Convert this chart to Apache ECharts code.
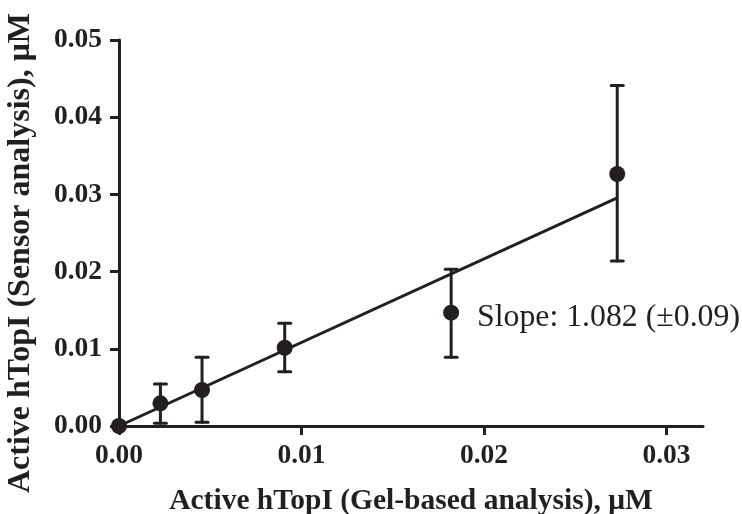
<!DOCTYPE html>
<html>
<head>
<meta charset="utf-8">
<script src="https://cdn.jsdelivr.net/npm/echarts@6/dist/echarts.min.js"></script>
<style>
  html, body { margin: 0; padding: 0; background: #fff; }
  #chart { width: 742px; height: 514px; }
</style>
</head>
<body>
<div id="chart"></div>
<script>
  // gel-based concentration (x) vs sensor concentration (y), uM
  const gelValues = [0, 0.00227, 0.00455, 0.00908, 0.0182, 0.0273]
  const sensorValues = [0, 0.00294, 0.00466, 0.01014, 0.01468, 0.03264]
  const errLow = [0, 0.00035, 0.00048, 0.00703, 0.0089, 0.02137]
  const errHigh = [0, 0.00544, 0.0089, 0.0133, 0.0203, 0.0441]
  const slope = 1.082
  const slopeText = 'Slope: 1.082 (\u00b10.09)'

  const ink = '#231f20'
  const font = 'Liberation Serif'

  const points = gelValues.map((x, i) => [x, sensorValues[i]])
  const bars = gelValues.map((x, i) => [x, errLow[i], errHigh[i]])
  const xEnd = gelValues[gelValues.length - 1]
  const fitLine = [[0, 0], [xEnd, xEnd * slope]]

  const chart = echarts.init(document.getElementById('chart'))
  chart.setOption({
    animation: false,
    backgroundColor: '#fff',
    grid: { left: 119, right: 39, top: 40, bottom: 88, containLabel: false, outerBoundsMode: 'none' },
    xAxis: {
      type: 'value',
      min: 0,
      max: 0.032,
      interval: 0.01,
      name: 'Active hTopI (Gel-based analysis), \u03bcM',
      nameLocation: 'middle',
      nameGap: 60,
      nameTextStyle: { fontFamily: font, fontWeight: 'bold', fontSize: 29.5, color: ink },
      axisLine: { lineStyle: { color: ink, width: 3 } },
      axisTick: { length: 9, lineStyle: { color: ink, width: 3 } },
      axisLabel: {
        margin: 16,
        fontFamily: font, fontWeight: 'bold', fontSize: 27.5, color: ink,
        showMaxLabel: false,
        formatter: v => v.toFixed(2)
      },
      splitLine: { show: false }
    },
    yAxis: {
      type: 'value',
      min: 0,
      max: 0.05,
      interval: 0.01,
      name: 'Active hTopI (Sensor analysis), \u03bcM',
      nameLocation: 'middle',
      nameGap: 82,
      nameTextStyle: { fontFamily: font, fontWeight: 'bold', fontSize: 32, color: ink, padding: [0, 40, 0, 0] },
      axisLine: { lineStyle: { color: ink, width: 3 } },
      axisTick: { length: 9, lineStyle: { color: ink, width: 3 } },
      axisLabel: {
        margin: 17,
        fontFamily: font, fontWeight: 'bold', fontSize: 27.5, color: ink,
        formatter: v => v.toFixed(2)
      },
      splitLine: { show: false }
    },
    graphic: [{
      type: 'text',
      left: 477,
      top: 302,
      style: { text: slopeText, fontFamily: font, fontSize: 31.8, fill: ink }
    }],
    series: [
      {
        type: 'line',
        data: fitLine,
        symbol: 'none',
        lineStyle: { color: ink, width: 3 },
        z: 2
      },
      {
        type: 'custom',
        data: bars,
        renderItem: (params, api) => {
          const lo = api.coord([api.value(0), api.value(1)])
          const hi = api.coord([api.value(0), api.value(2)])
          const cap = 6
          const style = { stroke: ink, lineWidth: 3, lineCap: 'round' }
          return {
            type: 'group',
            children: [
              { type: 'line', shape: { x1: lo[0], y1: lo[1], x2: hi[0], y2: hi[1] }, style },
              { type: 'line', shape: { x1: hi[0] - cap, y1: hi[1], x2: hi[0] + cap, y2: hi[1] }, style },
              { type: 'line', shape: { x1: lo[0] - cap, y1: lo[1], x2: lo[0] + cap, y2: lo[1] }, style }
            ]
          }
        },
        z: 3
      },
      {
        type: 'scatter',
        data: points,
        symbol: 'circle',
        symbolSize: 16,
        itemStyle: { color: ink, opacity: 1 },
        z: 4
      }
    ]
  })
</script>
</body>
</html>
